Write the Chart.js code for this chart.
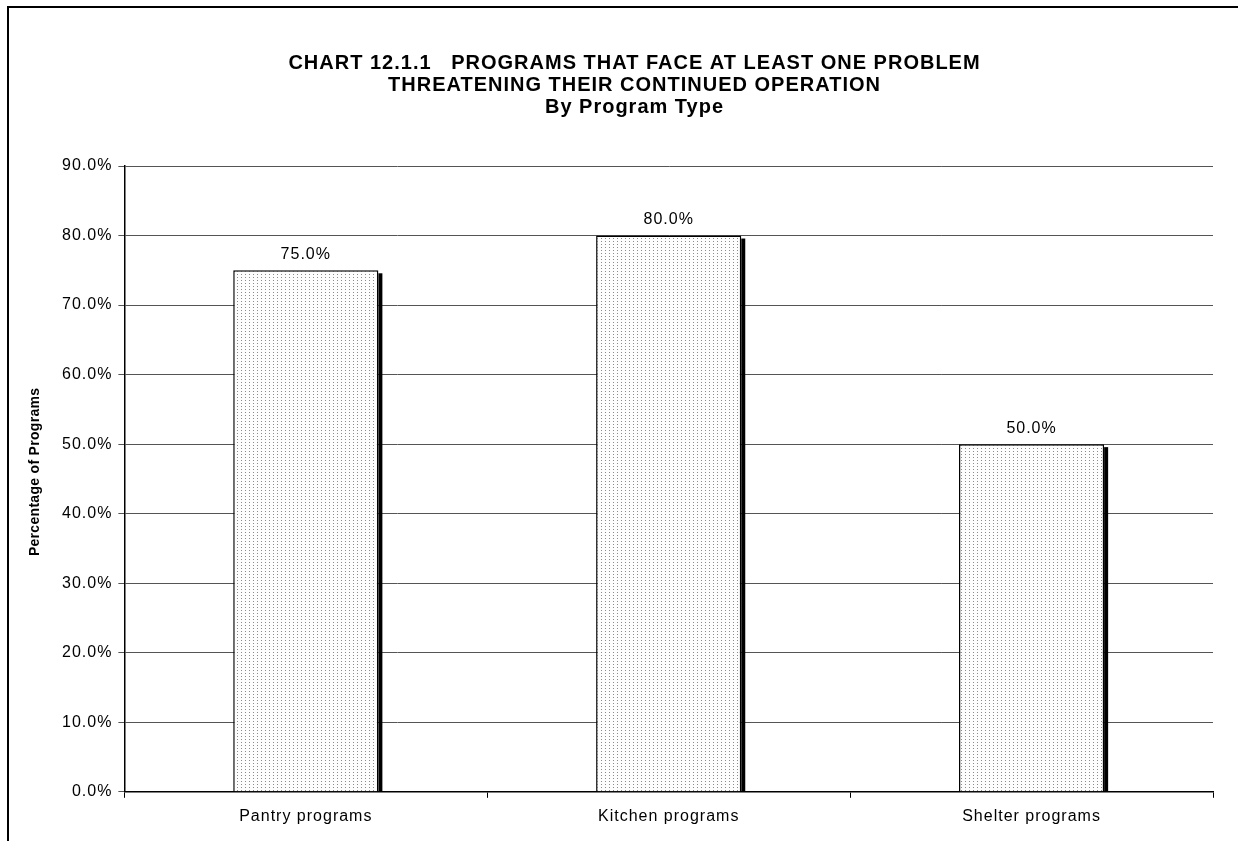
<!DOCTYPE html>
<html>
<head>
<meta charset="utf-8">
<script src="https://cdn.jsdelivr.net/npm/chart.js@4"></script>
<style>
  html, body { margin: 0; padding: 0; background: #fff; overflow: hidden; }
  #frame {
    position: absolute; left: 7px; top: 6px; width: 1300px; height: 900px;
    border-left: 2px solid #000; border-top: 2px solid #000;
  }
  #wrap { position: absolute; left: 0; top: 0; width: 1238px; height: 841px; }
</style>
</head>
<body>
<div id="frame"></div>
<div id="wrap"><canvas id="chart" width="1238" height="841"></canvas></div>
<script>
const categories = ['Pantry programs', 'Kitchen programs', 'Shelter programs'];
const values = [75.0, 80.0, 50.0];
const titleLines = [
  'CHART 12.1.1   PROGRAMS THAT FACE AT LEAST ONE PROBLEM',
  'THREATENING THEIR CONTINUED OPERATION',
  'By Program Type'
];
const yAxisTitle = 'Percentage of Programs';
const FONT = 'Arial, "Liberation Sans", sans-serif';

// stippled fill like the original
function makePattern() {
  const c = document.createElement('canvas');
  c.width = 4; c.height = 3;
  const g = c.getContext('2d');
  g.fillStyle = '#fdfdfd';
  g.fillRect(0, 0, 4, 3);
  g.fillStyle = '#8a8a8a';
  g.fillRect(1, 1, 1, 1);
  return g.createPattern(c, 'repeat');
}

// the original's text is set a little wide
const wideText = {
  id: 'wideText',
  beforeLayout(chart) { chart.ctx.letterSpacing = '1px'; },
  beforeDraw(chart) { chart.ctx.letterSpacing = '1px'; }
};

const barShadow = {
  id: 'barShadow',
  beforeDatasetDraw(chart) {
    const ctx = chart.ctx;
    chart.getDatasetMeta(0).data.forEach(bar => {
      ctx.save();
      ctx.fillStyle = '#000';
      const r = bar.x + bar.width / 2;
      ctx.fillRect(r, bar.y + 3, 4, bar.base - bar.y - 3);
      ctx.restore();
    });
  }
};

const barLabels = {
  id: 'barLabels',
  afterDatasetsDraw(chart) {
    const ctx = chart.ctx;
    ctx.save();
    ctx.font = '16px ' + FONT;
    ctx.fillStyle = '#000';
    ctx.textAlign = 'center';
    ctx.textBaseline = 'bottom';
    chart.getDatasetMeta(0).data.forEach((bar, i) => {
      ctx.fillText(values[i].toFixed(1) + '%', bar.x, bar.y - 8);
    });
    ctx.restore();
  },
  afterDraw(chart) {
    // y axis title
    const ctx = chart.ctx;
    const area = chart.chartArea;
    ctx.save();
    ctx.letterSpacing = '0.3px';
    ctx.font = 'bold 14px ' + FONT;
    ctx.fillStyle = '#000';
    ctx.textAlign = 'center';
    ctx.textBaseline = 'middle';
    ctx.translate(35, (area.top + area.bottom) / 2 - 7);
    ctx.rotate(-Math.PI / 2);
    ctx.fillText(yAxisTitle, 0, 0);
    ctx.restore();
  }
};

const ctx = document.getElementById('chart').getContext('2d');
new Chart(ctx, {
  type: 'bar',
  data: {
    labels: categories,
    datasets: [{
      data: values,
      backgroundColor: makePattern(),
      borderColor: '#000',
      borderWidth: 1.5,
      barPercentage: 0.8,
      categoryPercentage: 0.5
    }]
  },
  options: {
    responsive: false,
    animation: false,
    devicePixelRatio: 1,
    layout: { padding: { left: 56, right: 25, top: 52, bottom: 6 } },
    plugins: {
      legend: { display: false },
      tooltip: { enabled: false },
      title: {
        display: true,
        text: titleLines,
        color: '#000',
        font: { family: FONT, size: 20, weight: 'bold', lineHeight: 1.1 },
        padding: { top: 0, bottom: 48 }
      }
    },
    scales: {
      x: {
        grid: { display: true, drawOnChartArea: false, offset: true, color: '#000', tickLength: 6 },
        border: { color: '#000', width: 1.5 },
        ticks: { color: '#000', font: { family: FONT, size: 16 }, padding: 9 }
      },
      y: {
        min: 0, max: 90,
        ticks: {
          stepSize: 10, color: '#000', padding: 6,
          font: { family: FONT, size: 16 },
          callback: v => v.toFixed(1) + '%'
        },
        grid: { color: '#555', tickLength: 6, lineWidth: 1 },
        border: { color: '#000', width: 1.5 }
      }
    }
  },
  plugins: [wideText, barShadow, barLabels]
});
</script>
</body>
</html>
